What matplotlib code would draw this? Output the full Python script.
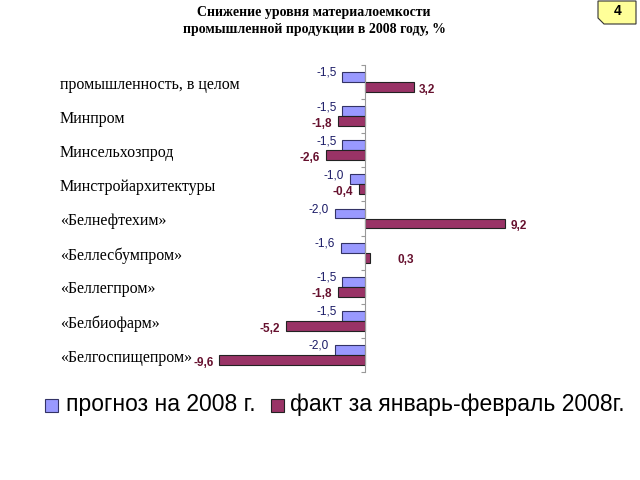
import numpy as np
import matplotlib
matplotlib.use('Agg')
import matplotlib.pyplot as plt
from matplotlib.patches import Polygon, Rectangle
import matplotlib.transforms as mtransforms

categories = ['промышленность, в целом', 'Минпром', 'Минсельхозпрод',
              'Минстройархитектуры', '«Белнефтехим»', '«Беллесбумпром»',
              '«Беллегпром»', '«Белбиофарм»', '«Белгоспищепром»']
forecast = [-1.5, -1.5, -1.5, -1.0, -2.0, -1.6, -1.5, -1.5, -2.0]
actual = [3.2, -1.8, -2.6, -0.4, 9.2, 0.3, -1.8, -5.2, -9.6]
series_names = ['прогноз на 2008 г.', 'факт за январь-февраль 2008г.']
title = 'Снижение уровня материалоемкости\nпромышленной продукции в 2008 году, %'

blue = '#9999ff'
red = '#993366'
blue_txt = '#1a1a66'
red_txt = '#66102e'

fig = plt.figure(figsize=(6.4, 4.8), dpi=100)
ax = fig.add_axes([200 / 640, 1 - 372 / 480, 360 / 640, 307 / 480])

y = np.arange(len(categories))
h = 0.29
ax.barh(y - h / 2, forecast, height=h, color=blue, edgecolor='#333366', linewidth=0.8)
ax.barh(y + h / 2, actual, height=h, color=red, edgecolor='#222222', linewidth=0.8)

ax.set_xlim(-10.86, 12.83)
ax.set_ylim(len(categories) - 0.5, -0.5)

for s in ['top', 'right', 'bottom']:
    ax.spines[s].set_visible(False)
ax.spines['left'].set_position(('data', 0))
ax.spines['left'].set_color('#999999')
ax.set_xticks([])
ax.set_yticks(np.arange(len(categories) + 1) - 0.5)
ax.set_yticklabels([])
ax.tick_params(axis='y', length=3, color='#999999', direction='out')

def fmt(v):
    return f'{v:.1f}'.replace('.', ',')

for yi, v in zip(y, forecast):
    ha = 'right' if v < 0 else 'left'
    dx = -4 if v < 0 else 4
    ax.annotate(fmt(v), (v, yi - h / 2), xytext=(dx, 3), textcoords='offset points',
                ha=ha, va='center', fontsize=8.5, color=blue_txt, family='Liberation Sans')
for yi, v in zip(y, actual):
    ha = 'right' if v < 0 else 'left'
    dx = -4 if v < 0 else 4
    if 0 < v < 1:
        dx = 20
    ax.annotate(fmt(v), (v, yi + h / 2), xytext=(dx, -2), textcoords='offset points',
                ha=ha, va='center', fontsize=8.5, color=red_txt, fontweight='bold',
                family='Liberation Sans')

trans = mtransforms.blended_transform_factory(fig.transFigure, ax.transData)
for yi, c in zip(y, categories):
    ax.text(60 / 640, yi + 0.08, c, transform=trans, ha='left', va='center',
            fontsize=11.5, family='Liberation Serif', clip_on=False)

fig.text(314 / 640, 1 - 21 / 480, title, ha='center', va='center', fontsize=10,
         fontweight='bold', family='Liberation Serif', linespacing=1.45)

# page number tag
px = lambda x: x / 640
py = lambda yy: 1 - yy / 480
tag = Polygon([(px(598), py(1)), (px(636), py(1)), (px(636), py(24)),
               (px(604), py(24)), (px(598), py(18))], closed=True,
              facecolor='#ffff99', edgecolor='#333333', linewidth=0.8,
              transform=fig.transFigure)
fig.patches.append(tag)
fig.text(px(618), py(11), '4', ha='center', va='center', fontsize=10,
         fontweight='bold', family='Liberation Sans')

# legend
fig.patches.append(Rectangle((px(45), py(412)), px(13), 13 / 480, facecolor=blue,
                             edgecolor='#333366', linewidth=0.8, transform=fig.transFigure))
fig.patches.append(Rectangle((px(271), py(412)), px(13), 13 / 480, facecolor=red,
                             edgecolor='#222222', linewidth=0.8, transform=fig.transFigure))
fig.text(px(66), py(404), series_names[0], ha='left', va='center', fontsize=16.5,
         family='Liberation Sans')
fig.text(px(290), py(404), series_names[1], ha='left', va='center', fontsize=16.5,
         family='Liberation Sans')

fig.savefig('out.png', dpi=100)
